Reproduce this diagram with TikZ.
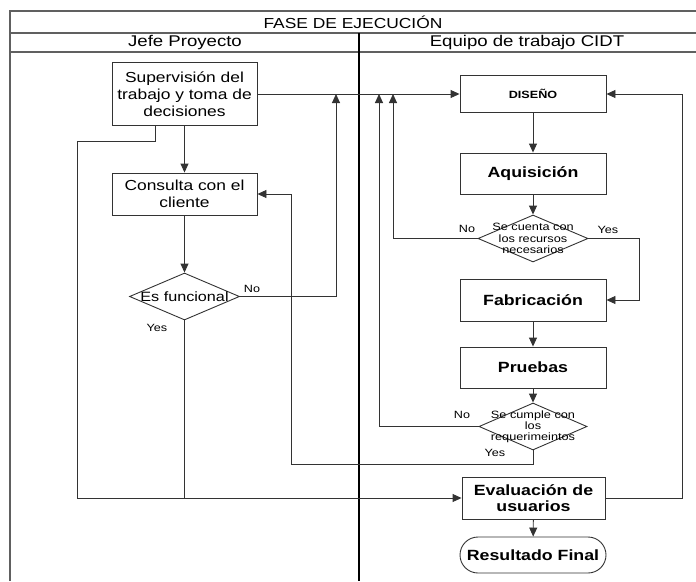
\documentclass[tikz,border=0pt]{standalone}
\usepackage{fontspec}
\setmainfont{Liberation Sans}[FakeStretch=1.2]
\usetikzlibrary{arrows.meta,shapes.geometric}
\definecolor{ln}{HTML}{333333}
\definecolor{frm}{HTML}{606060}
\tikzset{
  wire/.style={draw=ln, line width=0.9pt},
  flow/.style={wire, -{Triangle[length=9pt,width=8pt]}},
  frame/.style={draw=frm, line width=1.4pt},
  lane/.style={draw=black, line width=1.2pt},
  task/.style={draw=ln, line width=0.9pt, rectangle, minimum width=145pt, align=center, inner sep=2pt,
    font=\fontsize{14.5}{16.8}\selectfont},
  taskb/.style={task, font=\bfseries\fontsize{14.8}{16.5}\selectfont},
  ask/.style={draw=ln, line width=0.9pt, diamond, inner sep=0pt},
  asktxt/.style={font=\fontsize{10.6}{11.2}\selectfont, align=center, inner sep=0pt},
  tag/.style={font=\fontsize{10.5}{12}\selectfont, inner sep=1pt},
  head/.style={font=\fontsize{15.5}{17}\selectfont},
}

\begin{document}
\begin{tikzpicture}[x=1pt,y=-1pt]
  \useasboundingbox (0,0) rectangle (696,581);
  % pool and lanes
  \draw[frame] (10,581) -- (10,11) -- (697,11);
  \draw[frame] (10,33) -- (697,33);
  \draw[frame] (10,52) -- (697,52);
  \draw[lane] (359,33) -- (359,581);
  \node[head, font=\fontsize{14.5}{16}\selectfont] (title) at (353,22) {FASE DE EJECUCIÓN};
  \node[head] (jefe) at (185,42.5) {Jefe Proyecto};
  \node[head] (equipo) at (527,42.5) {Equipo de trabajo CIDT};

  % Jefe Proyecto
  \node[task, minimum height=63pt] (sup) at (184.5,94) {Supervisión del\\trabajo y toma de\\decisiones};
  \node[task, minimum height=42pt] (cons) at (184.5,194) {Consulta con el\\cliente};
  \node[ask, minimum width=110pt, minimum height=47pt,
    label={[asktxt, font=\fontsize{13.5}{15}\selectfont]center:Es funcional}] (func) at (184.5,296.5) {};

  % Equipo de trabajo
  \node[taskb, minimum width=146pt, minimum height=37pt, font=\bfseries\fontsize{10.5}{12}\selectfont] (dis) at (533,94) {DISEÑO};
  \node[taskb, minimum width=146pt, minimum height=41pt] (aqu) at (533,173.5) {Aquisición};
  \node[ask, minimum width=110pt, minimum height=47pt,
    label={[asktxt]center:Se cuenta con\\los recursos\\necesarios}] (rec) at (533,238.5) {};
  \node[taskb, minimum width=146pt, minimum height=42pt] (fab) at (533,300) {Fabricación};
  \node[taskb, minimum width=146pt, minimum height=41pt] (pru) at (533,367.5) {Pruebas};
  \node[ask, minimum width=108pt, minimum height=47pt,
    label={[asktxt]center:Se cumple con\\los\\requerimeintos}] (req) at (533,426.5) {};
  \node[taskb, minimum width=143pt, minimum height=42pt] (eva) at (533.5,498) {Evaluación de\\usuarios};
  \node[taskb, minimum width=146pt, minimum height=36pt, rounded corners=18pt] (res) at (533,555) {Resultado Final};

  \node[tag] (fno) at (252,289) {No};
  \node[tag] (fyes) at (157,328) {Yes};
  \node[tag] (rno) at (467,229) {No};
  \node[tag] (ryes) at (608,230) {Yes};
  \node[tag] (qno) at (462,415) {No};
  \node[tag] (qyes) at (495,453) {Yes};

  \coordinate (jf) at (336,94);
  \coordinate (jr) at (393,94);
  \coordinate (jq) at (379,94);
  \coordinate (sk) at (155,141);
  \coordinate (sl) at (77,141);
  \coordinate (yb) at (291,464);

  \draw[flow] (sup) -- (cons);
  \draw[flow] (cons) -- (func);
  \draw[flow] (sup.east) -- (dis.west);
  \draw[flow] (func.east) -| (jf);
  \draw[flow] (sup.south -| sk) -- (sk) -- (sl) |- (eva.west);
  \draw[wire] (func.south) -- (func.south |- eva.west);

  \draw[flow] (dis) -- (aqu);
  \draw[flow] (aqu) -- (rec);
  \draw[flow] (rec.west) -| (jr);
  \draw[flow] (rec.east) -- ++(51,0) |- (fab.east);
  \draw[flow] (fab) -- (pru);
  \draw[flow] (pru) -- (req);
  \draw[flow] (req.west) -| (jq);
  \draw[flow] (req.south) |- (yb) |- (cons.east);
  \draw[flow] (eva.east) -- ++(76.5,0) |- (dis.east);
  \draw[flow] (eva) -- (res);
\end{tikzpicture}
\end{document}
